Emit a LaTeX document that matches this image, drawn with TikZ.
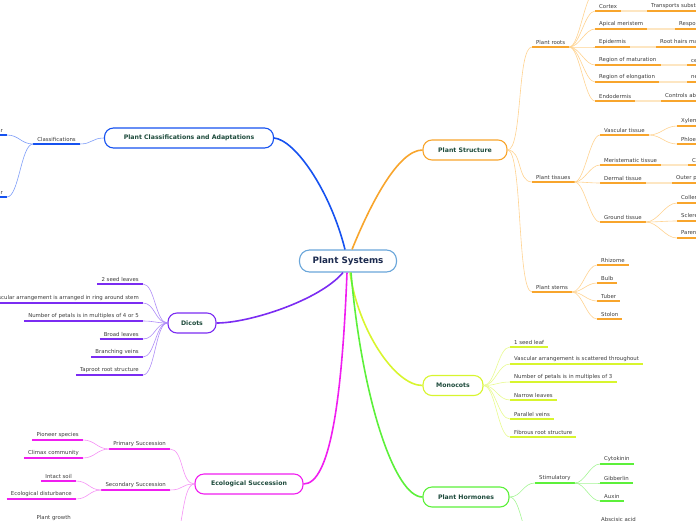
\documentclass[tikz,border=0pt]{standalone}
\usepackage{fontspec}
\setmainfont{DejaVu Sans}
\definecolor{orA}{HTML}{F8A52C}
\definecolor{orL}{HTML}{FFD391}
\definecolor{orX}{HTML}{FDE6C2}
\definecolor{blA}{HTML}{1652F0}
\definecolor{blL}{HTML}{7F9EF8}
\definecolor{puA}{HTML}{7B2CF2}
\definecolor{puL}{HTML}{AE8CF7}
\definecolor{yeA}{HTML}{D8F52E}
\definecolor{yeL}{HTML}{E8FA90}
\definecolor{grA}{HTML}{5CF03A}
\definecolor{grL}{HTML}{A3F593}
\definecolor{mgA}{HTML}{F01EF0}
\definecolor{mgL}{HTML}{F592F5}
\definecolor{rootB}{HTML}{6AA6DA}
\definecolor{rootT}{HTML}{1B2A4E}
\definecolor{topicT}{HTML}{1E4B3C}
\definecolor{labelgray}{HTML}{3C3C3C}
\begin{document}
\begin{tikzpicture}[x=1pt,y=-1pt,
  lbl/.style={font=\fontsize{5.4}{6}\selectfont, text=labelgray, inner xsep=4pt, inner ysep=2.2pt},
  R/.style={lbl, anchor=south west},
  L/.style={lbl, anchor=south east},
  ul/.style={append after command={(\tikzlastnode.south west) edge[draw=#1, line width=1.6pt] (\tikzlastnode.south east)}},
  topic/.style={draw=#1, line width=1.1pt, rounded corners=9pt, fill=white,
    font=\fontsize{6.2}{7}\selectfont\bfseries, text=topicT, minimum height=20pt, inner xsep=0pt},
  rootbox/.style={draw=rootB, line width=1.1pt, rounded corners=10pt, fill=white,
    font=\fontsize{8.8}{10}\selectfont\bfseries, text=rootT, minimum height=22pt, minimum width=97pt},
  link/.style={draw=#1, line width=0.6pt},
  ext/.style={draw=#1, line width=1.6pt},
  mainlink/.style={draw=#1, line width=1.6pt},
]
\useasboundingbox (0,0) rectangle (696,520);

% ---------- root and topics ----------
\node[rootbox] (root) at (348,261) {Plant Systems};
\node[topic=orA, minimum width=84pt] (ps) at (465,150) {Plant Structure};
\node[topic=blA, minimum width=169pt] (pca) at (189,138) {Plant Classifications and Adaptations};
\node[topic=puA, minimum width=48pt] (dic) at (192,323) {Dicots};
\node[topic=yeA, minimum width=60pt] (mon) at (453,385.5) {Monocots};
\node[topic=grA, minimum width=86pt] (hor) at (466,497) {Plant Hormones};
\node[topic=mgA, minimum width=108pt] (eco) at (249,484) {Ecological Succession};

\begin{scope}[on background layer/.style={}]
\draw[mainlink=blA] ([xshift=-3pt]root.north) .. controls (330,190) and (295,140) .. (pca.east);
\draw[mainlink=orA] ([xshift=4pt]root.north) .. controls (370,205) and (398,150) .. (ps.west);
\draw[mainlink=puA] ([xshift=-5pt]root.south) .. controls (320,300) and (250,323) .. (dic.east);
\draw[mainlink=yeA] ([xshift=2pt]root.south) .. controls (358,330) and (395,385.5) .. (mon.west);
\draw[mainlink=grA] ([xshift=3pt]root.south) .. controls (362,400) and (395,497) .. (hor.west);
\draw[mainlink=mgA] ([xshift=-1pt]root.south) .. controls (342,400) and (330,484) .. (eco.east);
\end{scope}

% ---------- Plant Structure ----------
\node[R, ul=orA] (roots) at (532,47) {Plant roots};
\node[R, ul=orA] (tis) at (532,182) {Plant tissues};
\node[R, ul=orA] (stm) at (532,292) {Plant stems};
\foreach \n in {roots,tis,stm}
  \draw[link=orL] (ps.east) .. controls +(15,0) and +(-15,0) .. (\n.south west);

\coordinate (rtop) at (595,-8);
\node[R, ul=orA] (cortex) at (595,11) {Cortex};
\node[R, ul=orA] (cortexg) at (647,11) {Transports substances};
\node[R, ul=orA] (apical) at (595,29) {Apical meristem};
\node[R, ul=orA] (apicalg) at (675,29) {Responsible for growth};
\node[R, ul=orA] (epi) at (595,47) {Epidermis};
\node[R, ul=orA] (epig) at (656,47) {Root hairs maximize absorption};
\node[R, ul=orA] (mat) at (595,65) {Region of maturation};
\node[R, ul=orA] (matg) at (687,65) {cells differentiate};
\node[R, ul=orA] (elo) at (595,82) {Region of elongation};
\node[R, ul=orA] (elog) at (687,82) {new cells elongate};
\node[R, ul=orA] (endo) at (595,101) {Endodermis};
\node[R, ul=orA] (endog) at (661,101) {Controls absorption};
\draw[link=orL] (roots.south east) .. controls +(10,0) and +(-10,0) .. (rtop);
\foreach \n in {cortex,apical,epi,mat,elo,endo}
  \draw[link=orL] (roots.south east) .. controls +(10,0) and +(-10,0) .. (\n.south west);
\foreach \a/\b in {cortex/cortexg,apical/apicalg,epi/epig,mat/matg,elo/elog,endo/endog}
  \draw[ext=orX] (\a.south east) -- (\b.south west);

\node[R, ul=orA] (vas) at (600,135) {Vascular tissue};
\node[R, ul=orA] (xyl) at (677,126) {Xylem};
\node[R, ul=orA] (phl) at (677,144) {Phloem};
\node[R, ul=orA] (mer) at (600,165) {Meristematic tissue};
\node[R, ul=orA] (merg) at (688,165) {Cell division};
\node[R, ul=orA] (der) at (600,183) {Dermal tissue};
\node[R, ul=orA] (derg) at (672,183) {Outer protective layer};
\node[R, ul=orA] (gro) at (600,222) {Ground tissue};
\node[R, ul=orA] (col) at (677,203) {Collenchyma};
\node[R, ul=orA] (scl) at (677,221) {Sclerenchyma};
\node[R, ul=orA] (par) at (677,238) {Parenchyma};
\foreach \n in {vas,mer,der,gro}
  \draw[link=orL] (tis.south east) .. controls +(10,0) and +(-10,0) .. (\n.south west);
\foreach \n in {xyl,phl}
  \draw[link=orL] (vas.south east) .. controls +(12,0) and +(-12,0) .. (\n.south west);
\foreach \n in {col,scl,par}
  \draw[link=orL] (gro.south east) .. controls +(12,0) and +(-12,0) .. (\n.south west);
\draw[ext=orX] (mer.south east) -- (merg.south west);
\draw[ext=orX] (der.south east) -- (derg.south west);

\node[R, ul=orA] (rhi) at (597,265) {Rhizome};
\node[R, ul=orA] (bulb) at (597,283) {Bulb};
\node[R, ul=orA] (tub) at (597,301) {Tuber};
\node[R, ul=orA] (sto) at (597,319) {Stolon};
\foreach \n in {rhi,bulb,tub,sto}
  \draw[link=orL] (stm.south east) .. controls +(10,0) and +(-10,0) .. (\n.south west);

% ---------- Monocots ----------
\node[R, ul=yeA] (m1) at (510,347) {1 seed leaf};
\node[R, ul=yeA] (m2) at (510,364) {Vascular arrangement is scattered throughout};
\node[R, ul=yeA] (m3) at (510,382) {Number of petals is in multiples of 3};
\node[R, ul=yeA] (m4) at (510,400) {Narrow leaves};
\node[R, ul=yeA] (m5) at (510,419) {Parallel veins};
\node[R, ul=yeA] (m6) at (510,437) {Fibrous root structure};
\foreach \n in {m1,m2,m3,m4,m5,m6}
  \draw[link=yeL] (mon.east) .. controls +(12,0) and +(-12,0) .. (\n.south west);

% ---------- Plant Hormones ----------
\node[R, ul=grA] (sti) at (535,483) {Stimulatory};
\coordinate (inh) at (535,545);
\node[R, ul=grA] (cyt) at (600,464) {Cytokinin};
\node[R, ul=grA] (gib) at (600,483) {Gibberlin};
\node[R, ul=grA] (aux) at (600,501) {Auxin};
\node[R, ul=grA] (abs) at (597,524) {Abscisic acid};
\draw[link=grL] (hor.east) .. controls +(12,0) and +(-12,0) .. (sti.south west);
\draw[link=grL] (hor.east) .. controls +(12,0) and +(-12,0) .. (inh);
\foreach \n in {cyt,gib,aux}
  \draw[link=grL] (sti.south east) .. controls +(10,0) and +(-10,0) .. (\n.south west);

% ---------- Dicots ----------
\node[L, ul=puA] (d1) at (143,284) {2 seed leaves};
\node[L, ul=puA] (d2) at (143,303) {Vascular arrangement is arranged in ring around stem};
\node[L, ul=puA] (d3) at (143,321) {Number of petals is in multiples of 4 or 5};
\node[L, ul=puA] (d4) at (143,339) {Broad leaves};
\node[L, ul=puA] (d5) at (143,357) {Branching veins};
\node[L, ul=puA] (d6) at (143,375) {Taproot root structure};
\foreach \n in {d1,d2,d3,d4,d5,d6}
  \draw[link=puL] (dic.west) .. controls +(-12,0) and +(12,0) .. (\n.south east);

% ---------- Classifications ----------
\node[L, ul=blA] (cls) at (80,144) {Classifications};
\node[L, ul=blA] (v1) at (7,135) {Vascular};
\node[L, ul=blA] (v2) at (7,197) {Nonvascular};
\draw[link=blL] (pca.west) .. controls +(-12,0) and +(12,0) .. (cls.south east);
\foreach \n in {v1,v2}
  \draw[link=blL] (cls.south west) .. controls +(-12,0) and +(12,0) .. (\n.south east);

% ---------- Ecological Succession ----------
\node[L, ul=mgA] (pri) at (170,449) {Primary Succession};
\node[L, ul=mgA] (pio) at (83,440) {Pioneer species};
\node[L, ul=mgA] (cli) at (83,458) {Climax community};
\node[L, ul=mgA] (sec) at (170,490) {Secondary Succession};
\node[L, ul=mgA] (int) at (76,481) {Intact soil};
\node[L, ul=mgA] (dis) at (76,499) {Ecological disturbance};
\coordinate (ter) at (170,545);
\node[L, ul=mgA] (pg) at (75,523) {Plant growth};
\foreach \n in {pri,sec}
  \draw[link=mgL] (eco.west) .. controls +(-14,0) and +(14,0) .. (\n.south east);
\draw[link=mgL] (eco.west) .. controls +(-14,0) and +(14,0) .. (ter);
\foreach \n in {pio,cli}
  \draw[link=mgL] (pri.south west) .. controls +(-12,0) and +(12,0) .. (\n.south east);
\foreach \n in {int,dis}
  \draw[link=mgL] (sec.south west) .. controls +(-12,0) and +(12,0) .. (\n.south east);
\end{tikzpicture}
\end{document}
